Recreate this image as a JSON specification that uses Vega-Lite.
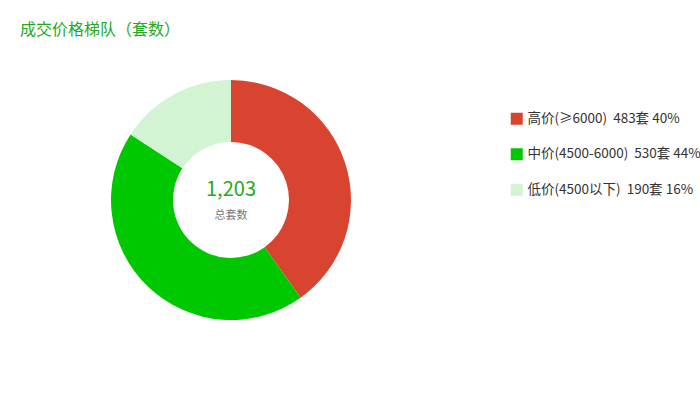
{
  "$schema": "https://vega.github.io/schema/vega-lite/v6.json",
  "autosize": "none",
  "padding": {"left": 0, "top": 50, "right": 238, "bottom": 70},
  "width": 462,
  "height": 300,
  "background": "white",
  "title": {
    "text": "成交价格梯队（套数）",
    "anchor": "start",
    "frame": "group",
    "dx": 20,
    "offset": 12,
    "fontSize": 16,
    "fontWeight": "normal",
    "color": "#22aa22",
    "font": "Noto Sans CJK SC"
  },
  "data": {
    "values": [
      {"tier": "高价(≥6000)\u00a0\u00a0483套 40%", "count": 483, "order": 1},
      {"tier": "中价(4500-6000)\u00a0\u00a0530套 44%", "count": 530, "order": 2},
      {"tier": "低价(4500以下)\u00a0\u00a0190套 16%", "count": 190, "order": 3}
    ]
  },
  "layer": [
    {
      "mark": {"type": "arc", "outerRadius": 120, "innerRadius": 58},
      "encoding": {
        "theta": {"field": "count", "type": "quantitative", "stack": true},
        "order": {"field": "order", "type": "quantitative"},
        "color": {
          "field": "tier",
          "type": "nominal",
          "scale": {
            "domain": ["高价(≥6000)\u00a0\u00a0483套 40%", "中价(4500-6000)\u00a0\u00a0530套 44%", "低价(4500以下)\u00a0\u00a0190套 16%"],
            "range": ["#d84430", "#00c800", "#d3f4d3"]
          },
          "legend": {
            "title": null,
            "orient": "none",
            "legendX": 510,
            "legendY": 62,
            "symbolType": "square",
            "symbolSize": 144,
            "symbolStrokeWidth": 0,
            "symbolOpacity": 1,
            "labelFontSize": 13.5,
            "labelFont": "Noto Sans CJK SC",
            "labelColor": "#333333",
            "labelOffset": 4,
            "labelLimit": 400,
            "rowPadding": 20.5
          }
        }
      }
    },
    {
      "transform": [{"aggregate": [{"op": "sum", "field": "count", "as": "total"}]}],
      "mark": {"type": "text", "fontSize": 20, "color": "#22aa22", "dy": -10, "font": "Noto Sans CJK SC", "baseline": "middle", "align": "center"},
      "encoding": {
        "text": {"field": "total", "type": "quantitative", "format": ","}
      }
    },
    {
      "transform": [{"aggregate": [{"op": "sum", "field": "count", "as": "total"}]}, {"calculate": "'总套数'", "as": "label"}],
      "mark": {"type": "text", "fontSize": 11, "color": "#777777", "dy": 16, "font": "Noto Sans CJK SC", "baseline": "middle", "align": "center"},
      "encoding": {
        "text": {"field": "label", "type": "nominal"}
      }
    }
  ],
  "config": {"view": {"stroke": null}}
}
